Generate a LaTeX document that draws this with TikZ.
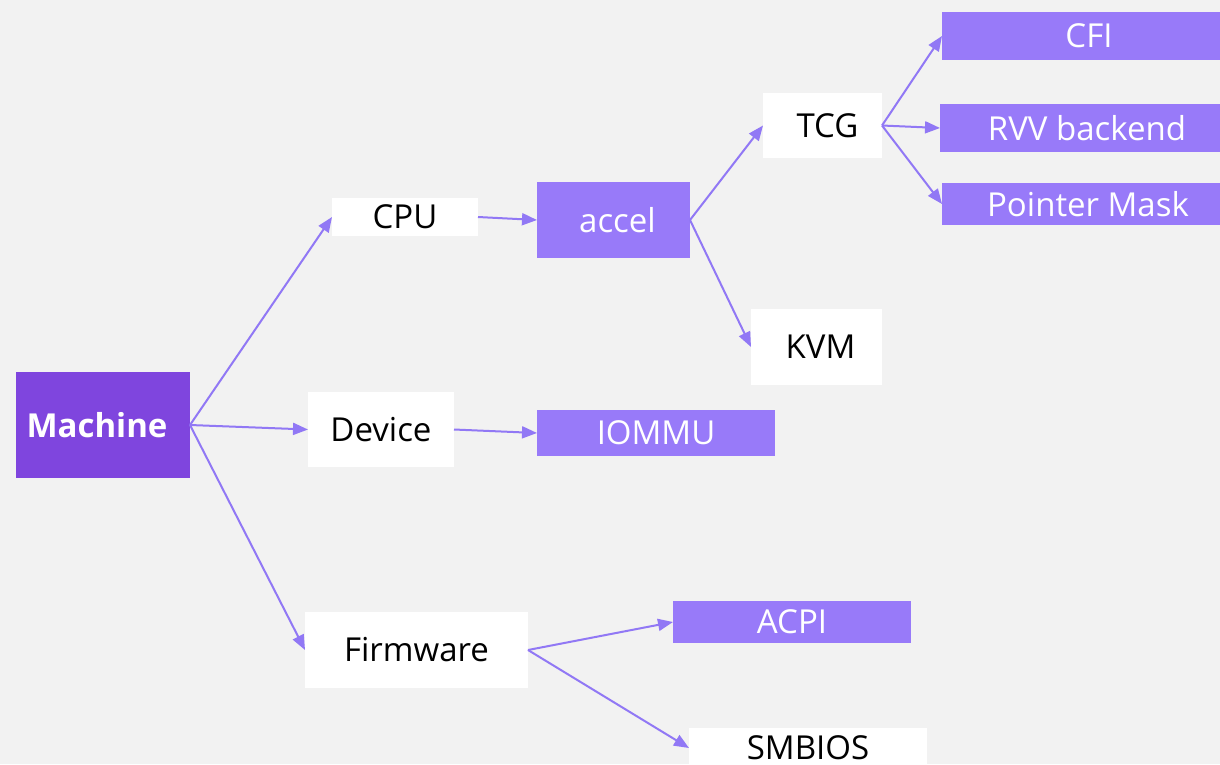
\documentclass[tikz,border=0pt]{standalone}
\usepackage{fontspec}
\setmainfont{Open Sans}
\usetikzlibrary{arrows.meta}
\definecolor{bgc}{HTML}{F2F2F2}
\definecolor{deep}{HTML}{7F45DE}
\definecolor{soft}{HTML}{987AF9}
\definecolor{link}{HTML}{9178F5}
\tikzset{
  box/.style={inner sep=0pt, outer sep=0pt, font=\fontsize{33}{36}\selectfont},
  plain/.style={box, fill=white, text=black},
  lilac/.style={box, fill=soft, text=white},
  root/.style={box, fill=deep, text=white, font=\fontsize{33}{36}\selectfont\bfseries},
  link/.style={draw=link, line width=2pt, -{Triangle[length=15pt,width=12pt]}}
}
\begin{document}
\begin{tikzpicture}[x=1pt,y=-1pt]
  \useasboundingbox (0,0) rectangle (1220,764);
  \clip (0,0) rectangle (1220,764);
  \fill[bgc] (0,0) rectangle (1220,764);

  % tree nodes
  \node[root,  minimum width=174pt, minimum height=106pt] (machine)  at (103,425)    {Machine\hspace*{12pt}};
  \node[plain, minimum width=146pt, minimum height=38pt]  (cpu)      at (405,217)    {CPU};
  \node[lilac, minimum width=153pt, minimum height=76pt]  (accel)    at (613.5,220)  {\hspace*{8pt}accel};
  \node[plain, minimum width=119pt, minimum height=65pt]  (tcg)      at (822.5,125.5){\hspace*{10pt}TCG};
  \node[lilac, minimum width=294pt, minimum height=48pt]  (cfi)      at (1089,36)    {CFI};
  \node[lilac, minimum width=294pt, minimum height=48pt]  (rvv)      at (1087,128)   {RVV backend};
  \node[lilac, minimum width=292pt, minimum height=42pt]  (pm)       at (1088,204)   {Pointer Mask};
  \node[plain, minimum width=131pt, minimum height=76pt]  (kvm)      at (816.5,347)  {\hspace*{8pt}KVM};
  \node[plain, minimum width=146pt, minimum height=75pt]  (device)   at (381,429.5)  {Device};
  \node[lilac, minimum width=238pt, minimum height=46pt]  (iommu)    at (656,433)    {IOMMU};
  \node[plain, minimum width=223pt, minimum height=76pt]  (firmware) at (416.5,650)  {Firmware};
  \node[lilac, minimum width=238pt, minimum height=42pt]  (acpi)     at (792,622)    {ACPI};
  \node[plain, minimum width=238pt, minimum height=40pt]  (smbios)   at (808,748)    {SMBIOS};

  % connectors
  \draw[link] (machine.east) -- (cpu.west);
  \draw[link] (machine.east) -- (device.west);
  \draw[link] (machine.east) -- (firmware.west);
  \draw[link] (cpu.east) -- (accel.west);
  \draw[link] (accel.east) -- (tcg.west);
  \draw[link] (accel.east) -- (kvm.west);
  \draw[link] (tcg.east) -- (cfi.west);
  \draw[link] (tcg.east) -- (rvv.west);
  \draw[link] (tcg.east) -- (pm.west);
  \draw[link] (device.east) -- (iommu.west);
  \draw[link] (firmware.east) -- (acpi.west);
  \draw[link] (firmware.east) -- (smbios.west);
\end{tikzpicture}
\end{document}
